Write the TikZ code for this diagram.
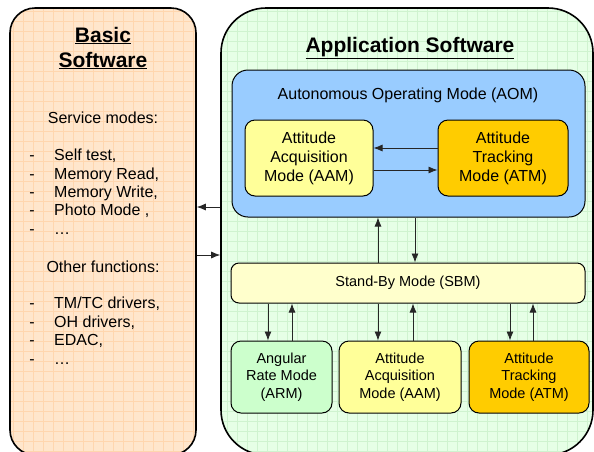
\documentclass[tikz,border=0pt]{standalone}
\usepackage{fontspec}
\setmainfont{Liberation Sans}
\usetikzlibrary{arrows.meta}
\definecolor{basicfill}{HTML}{FFE6CC}
\definecolor{basicgrid}{HTML}{FFD6AE}
\definecolor{appfill}{HTML}{E6FFE6}
\definecolor{appgrid}{HTML}{CFF3CF}
\definecolor{aomfill}{HTML}{99CCFF}
\definecolor{aamfill}{HTML}{FFFF99}
\definecolor{atmfill}{HTML}{FFCC00}
\definecolor{armfill}{HTML}{CCFFCC}
\definecolor{sbmfill}{HTML}{FFFFCC}
\tikzset{
  bigbox/.style={draw=black, line width=1.6pt, inner sep=0pt},
  modebox/.style={draw=black, line width=1pt, rounded corners=10pt, inner sep=0pt, align=center},
  bodytext/.style={font=\fontsize{16}{19}\selectfont},
  smalltext/.style={font=\fontsize{14.5}{17.5}\selectfont},
  titletext/.style={font=\fontsize{21}{25}\selectfont\bfseries, align=center},
  txt/.style={inner sep=0pt, anchor=base},
  itm/.style={inner sep=0pt, anchor=base west, bodytext},
  dsh/.style={inner sep=0pt, anchor=base, bodytext},
  arr/.style={-{Latex[length=9pt,width=7pt]}, line width=0.8pt, draw=black!85},
}
\begin{document}
\begin{tikzpicture}[x=1pt,y=-1pt]
\useasboundingbox (0,0) rectangle (594,451);
% Basic software box
\node[bigbox, rounded corners=25pt, fill=basicfill, minimum width=186pt, minimum height=447pt,
  path picture={\draw[basicgrid, line width=0.5pt, step=10pt] (path picture bounding box.south west) grid (path picture bounding box.north east);}]
  (basic) at (103,231.5) {};
% Application software box
\node[bigbox, rounded corners=45pt, fill=appfill, minimum width=372pt, minimum height=447pt,
  path picture={\draw[appgrid, line width=0.5pt, step=10pt] (path picture bounding box.south west) grid (path picture bounding box.north east);}]
  (app) at (407,231.5) {};
% titles
\node[txt, titletext] (basict1) at (103,42) {\underline{Basic}};
\node[txt, titletext] (basict2) at (103,67) {\underline{Software}};
\node[txt, titletext] (appt) at (410,52.5) {\underline{Application Software}};
% basic software text
\node[txt, bodytext] (serv) at (103,123.5) {Service modes:};
\node[dsh] (d1) at (32,160.5) {-}; \node[itm] (i1) at (54,160.5) {Self test,};
\node[dsh] (d2) at (32,179.5) {-}; \node[itm] (i2) at (54,179.5) {Memory Read,};
\node[dsh] (d3) at (32,197.5) {-}; \node[itm] (i3) at (54,197.5) {Memory Write,};
\node[dsh] (d4) at (32,215.5) {-}; \node[itm] (i4) at (54,215.5) {Photo Mode ,};
\node[dsh] (d5) at (32,234.5) {-}; \node[itm] (i5) at (54,234.5) {…};
\node[txt, bodytext] (other) at (103,272.5) {Other functions:};
\node[dsh] (d6) at (32,308.5) {-}; \node[itm] (i6) at (54,308.5) {TM/TC drivers,};
\node[dsh] (d7) at (32,327.5) {-}; \node[itm] (i7) at (54,327.5) {OH drivers,};
\node[dsh] (d8) at (32,345.5) {-}; \node[itm] (i8) at (54,345.5) {EDAC,};
\node[dsh] (d9) at (32,364.5) {-}; \node[itm] (i9) at (54,364.5) {…};
% AOM
\node[modebox, rounded corners=16pt, fill=aomfill, minimum width=353pt, minimum height=147pt] (aom) at (408.5,143.5) {};
\node[txt, bodytext] (aomlabel) at (408,99) {Autonomous Operating Mode (AOM)};
\node[modebox, fill=aamfill, minimum width=128pt, minimum height=76pt, bodytext] (aam1) at (309,158) {Attitude\\Acquisition\\Mode (AAM)};
\node[modebox, fill=atmfill, minimum width=130pt, minimum height=76pt, bodytext] (atm1) at (503,158) {Attitude\\Tracking\\Mode (ATM)};
% SBM
\node[modebox, rounded corners=8pt, fill=sbmfill, minimum width=354pt, minimum height=40pt, smalltext] (sbm) at (408,283) {Stand-By Mode (SBM)};
% bottom modes
\node[modebox, fill=armfill, minimum width=101pt, minimum height=72pt, smalltext] (arm) at (281.5,377) {Angular\\Rate Mode\\(ARM)};
\node[modebox, fill=aamfill, minimum width=122pt, minimum height=72pt, smalltext] (aam2) at (400,377) {Attitude\\Acquisition\\Mode (AAM)};
\node[modebox, fill=atmfill, minimum width=120pt, minimum height=72pt, smalltext] (atm2) at (529,377) {Attitude\\Tracking\\Mode (ATM)};
% connectors
\draw[arr] ([yshift=10pt]atm1.west) -- ([yshift=10pt]atm1.west -| aam1.east);
\draw[arr] ([yshift=-12pt]aam1.east) -- ([yshift=-12pt]aam1.east -| atm1.west);
\draw[arr] ([yshift=24.5pt]app.west) -- ([yshift=24.5pt]basic.east);
\draw[arr] ([yshift=-23.5pt]basic.east) -- ([yshift=-23.5pt]app.west);
\draw[arr] ([xshift=-30pt]sbm.north) -- ([xshift=-30pt]sbm.north |- aom.south);
\draw[arr] ([xshift=7pt]sbm.north |- aom.south) -- ([xshift=7pt]sbm.north);
\draw[arr] ([xshift=-13.5pt]arm.north |- sbm.south) -- ([xshift=-13.5pt]arm.north);
\draw[arr] ([xshift=10.5pt]arm.north) -- ([xshift=10.5pt]arm.north |- sbm.south);
\draw[arr] ([xshift=-22pt]aam2.north |- sbm.south) -- ([xshift=-22pt]aam2.north);
\draw[arr] ([xshift=13pt]aam2.north) -- ([xshift=13pt]aam2.north |- sbm.south);
\draw[arr] ([xshift=-19pt]atm2.north |- sbm.south) -- ([xshift=-19pt]atm2.north);
\draw[arr] ([xshift=4pt]atm2.north) -- ([xshift=4pt]atm2.north |- sbm.south);
\end{tikzpicture}
\end{document}
